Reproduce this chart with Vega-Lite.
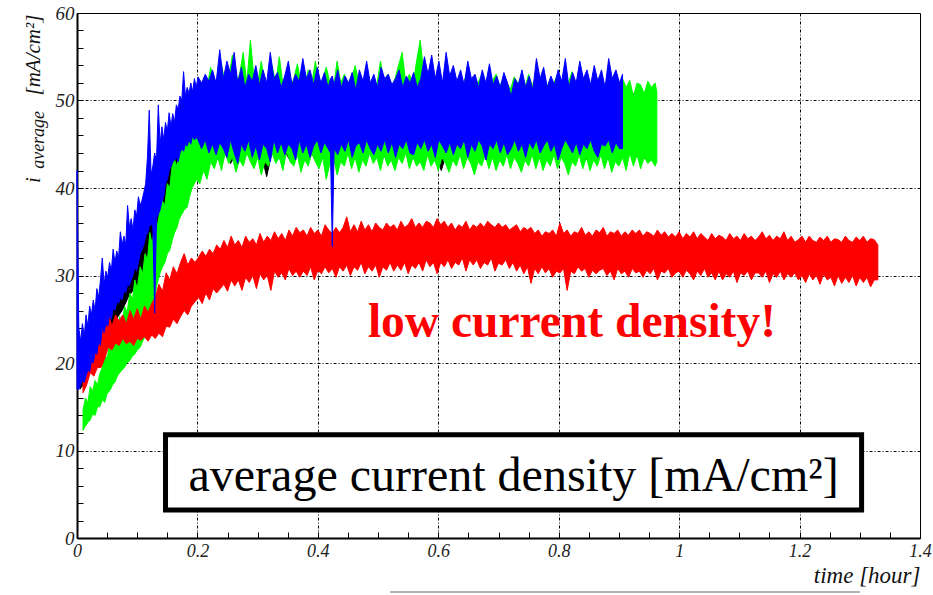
{
"$schema":"https://vega.github.io/schema/vega-lite/v6.json",
"width":843,"height":525,
"autosize":{"type":"none"},
"padding":{"left":77,"top":13,"right":13,"bottom":57},
"background":"white",
"config":{"view":{"stroke":"black","strokeWidth":1},"font":"Liberation Serif"},
"datasets":{
"black":[{"t":0.005,"a":17,"b":22},{"t":0.015,"a":18,"b":23.5},{"t":0.025,"a":19.5,"b":25},{"t":0.035,"a":21,"b":26.5},{"t":0.045,"a":22.5,"b":28},{"t":0.055,"a":23.5,"b":29},{"t":0.065,"a":25,"b":30.5},{"t":0.075,"a":26,"b":32},{"t":0.085,"a":27.5,"b":33.5},{"t":0.095,"a":28.5,"b":35},{"t":0.105,"a":29.2,"b":36.5},{"t":0.115,"a":31,"b":38},{"t":0.125,"a":33,"b":40},{"t":0.135,"a":35,"b":42},{"t":0.145,"a":37.5,"b":44.5},{"t":0.155,"a":39.5,"b":46},{"t":0.165,"a":41,"b":47.5},{"t":0.175,"a":42.5,"b":49},{"t":0.185,"a":43,"b":50},{"t":0.195,"a":43.5,"b":50.5},{"t":0.205,"a":43.8,"b":50},{"t":0.215,"a":42.5,"b":50.5},{"t":0.225,"a":44.5,"b":49.8},{"t":0.235,"a":43.2,"b":50.5},{"t":0.245,"a":44.8,"b":50.2},{"t":0.255,"a":42.8,"b":51},{"t":0.265,"a":44,"b":50},{"t":0.275,"a":42.9,"b":50.5},{"t":0.285,"a":44.5,"b":50.2},{"t":0.295,"a":43.5,"b":51},{"t":0.305,"a":44.2,"b":50},{"t":0.315,"a":41.3,"b":50.5},{"t":0.325,"a":44.5,"b":50.2},{"t":0.335,"a":43.8,"b":50.8},{"t":0.345,"a":44.2,"b":50},{"t":0.355,"a":43,"b":50.5},{"t":0.365,"a":44.5,"b":50.2},{"t":0.375,"a":43.5,"b":50.8},{"t":0.385,"a":44.8,"b":50},{"t":0.395,"a":43.2,"b":50.5},{"t":0.405,"a":44.5,"b":50.2},{"t":0.415,"a":43.8,"b":50.8},{"t":0.425,"a":44.2,"b":50},{"t":0.435,"a":42.8,"b":50.5},{"t":0.445,"a":44.5,"b":50.2},{"t":0.455,"a":43.5,"b":50.8},{"t":0.465,"a":44.8,"b":50},{"t":0.475,"a":43.2,"b":50.5},{"t":0.485,"a":44,"b":50.2},{"t":0.495,"a":43.5,"b":50.8},{"t":0.505,"a":44.5,"b":50},{"t":0.515,"a":43,"b":50.5},{"t":0.525,"a":44.2,"b":50.2},{"t":0.535,"a":43.8,"b":50.8},{"t":0.545,"a":44.5,"b":50},{"t":0.555,"a":43.2,"b":50.5},{"t":0.565,"a":44,"b":50.2},{"t":0.575,"a":42.5,"b":50.8},{"t":0.585,"a":44.5,"b":50},{"t":0.595,"a":43.8,"b":50.5},{"t":0.605,"a":42,"b":50.2},{"t":0.615,"a":44.2,"b":50.8},{"t":0.625,"a":43.5,"b":50},{"t":0.635,"a":44.5,"b":50.5},{"t":0.645,"a":43.2,"b":50.2},{"t":0.655,"a":44.8,"b":50.8},{"t":0.665,"a":43.5,"b":50},{"t":0.675,"a":44.2,"b":50.5},{"t":0.685,"a":43,"b":50.2},{"t":0.695,"a":44.5,"b":50.8},{"t":0.705,"a":43.8,"b":50},{"t":0.715,"a":44.2,"b":50.5},{"t":0.725,"a":43.5,"b":50.2},{"t":0.735,"a":44.8,"b":50.8},{"t":0.745,"a":43.2,"b":50},{"t":0.755,"a":44.5,"b":50.5},{"t":0.765,"a":43.8,"b":50.2},{"t":0.775,"a":44.2,"b":50.8},{"t":0.785,"a":42.9,"b":50},{"t":0.795,"a":44.5,"b":50.5},{"t":0.805,"a":43.5,"b":50.2},{"t":0.815,"a":44.2,"b":50.8},{"t":0.825,"a":43.8,"b":50},{"t":0.835,"a":44.5,"b":50.5},{"t":0.845,"a":43.2,"b":50.2},{"t":0.855,"a":44.2,"b":50.8},{"t":0.865,"a":43.5,"b":50},{"t":0.875,"a":44.8,"b":50.5},{"t":0.885,"a":43,"b":50.2},{"t":0.895,"a":44.5,"b":50.8},{"t":0.905,"a":43.8,"b":51},{"t":0.915,"a":44.2,"b":50.5},{"t":0.925,"a":43.5,"b":50.8},{"t":0.935,"a":44,"b":50.2},{"t":0.945,"a":43.2,"b":50.5},{"t":0.955,"a":43.8,"b":50}],
"green":[{"t":0.01,"a":12.3,"b":14.6},{"t":0.014,"a":12.8,"b":16},{"t":0.018,"a":13.2,"b":15.5},{"t":0.022,"a":13.5,"b":17.3},{"t":0.026,"a":14.2,"b":16.8},{"t":0.03,"a":14,"b":18},{"t":0.034,"a":15,"b":17.5},{"t":0.038,"a":15,"b":18.8},{"t":0.042,"a":15.8,"b":19.5},{"t":0.046,"a":15.5,"b":21},{"t":0.05,"a":16.5,"b":20.5},{"t":0.055,"a":16.9,"b":22.6},{"t":0.059,"a":17.5,"b":21.8},{"t":0.063,"a":17.8,"b":24},{"t":0.067,"a":18.5,"b":23},{"t":0.071,"a":18.9,"b":25.3},{"t":0.075,"a":19.2,"b":24.5},{"t":0.079,"a":19.5,"b":26.5},{"t":0.083,"a":20,"b":25.8},{"t":0.088,"a":20.3,"b":28},{"t":0.092,"a":20.8,"b":27.2},{"t":0.096,"a":21,"b":29.5},{"t":0.1,"a":21.5,"b":28.5},{"t":0.105,"a":21.8,"b":31},{"t":0.109,"a":22.5,"b":30.2},{"t":0.113,"a":23,"b":32.5},{"t":0.117,"a":23.8,"b":31.8},{"t":0.121,"a":24.6,"b":34.9},{"t":0.125,"a":26,"b":33.5},{"t":0.129,"a":27.5,"b":36},{"t":0.133,"a":29,"b":35.5},{"t":0.138,"a":30.3,"b":37.5},{"t":0.142,"a":31,"b":38.5},{"t":0.146,"a":31.5,"b":38},{"t":0.15,"a":32.5,"b":40.5},{"t":0.154,"a":32.9,"b":40},{"t":0.158,"a":34,"b":42.5},{"t":0.162,"a":34.9,"b":43.2},{"t":0.166,"a":35.5,"b":42.5},{"t":0.17,"a":36.5,"b":44},{"t":0.174,"a":37,"b":44.5},{"t":0.178,"a":37.5,"b":45.2},{"t":0.183,"a":37.8,"b":45.9},{"t":0.187,"a":39,"b":47.5},{"t":0.191,"a":40,"b":48},{"t":0.195,"a":40.5,"b":49.5},{"t":0.199,"a":41,"b":50.5},{"t":0.204,"a":40.5,"b":51},{"t":0.21,"a":42,"b":52},{"t":0.216,"a":41,"b":51.5},{"t":0.222,"a":43,"b":53.8},{"t":0.228,"a":42.2,"b":52},{"t":0.234,"a":43.5,"b":52.5},{"t":0.24,"a":42,"b":54.2},{"t":0.246,"a":44,"b":51.8},{"t":0.252,"a":42.8,"b":52.5},{"t":0.258,"a":43.5,"b":55.2},{"t":0.264,"a":41.8,"b":52},{"t":0.27,"a":43.2,"b":53},{"t":0.276,"a":42.5,"b":55.5},{"t":0.282,"a":44,"b":52},{"t":0.288,"a":43,"b":56.9},{"t":0.294,"a":42.2,"b":52.5},{"t":0.3,"a":43.5,"b":51.8},{"t":0.306,"a":41.5,"b":54.5},{"t":0.312,"a":43,"b":52},{"t":0.318,"a":42.5,"b":51.5},{"t":0.324,"a":44,"b":54},{"t":0.33,"a":42.8,"b":52},{"t":0.336,"a":43.5,"b":55},{"t":0.342,"a":42,"b":51.8},{"t":0.348,"a":44.2,"b":53},{"t":0.354,"a":43,"b":51.5},{"t":0.36,"a":42.5,"b":52.5},{"t":0.366,"a":43.8,"b":54.2},{"t":0.372,"a":41.8,"b":52},{"t":0.378,"a":43.2,"b":51.5},{"t":0.384,"a":42.5,"b":53.5},{"t":0.39,"a":44,"b":52},{"t":0.396,"a":43,"b":54.5},{"t":0.402,"a":42.2,"b":51.5},{"t":0.408,"a":43.5,"b":52.5},{"t":0.414,"a":41,"b":53.8},{"t":0.42,"a":42.8,"b":52},{"t":0.426,"a":43.5,"b":51.5},{"t":0.432,"a":41.5,"b":54.5},{"t":0.438,"a":43,"b":52},{"t":0.444,"a":42.5,"b":53},{"t":0.45,"a":44,"b":51.8},{"t":0.456,"a":42.2,"b":52.5},{"t":0.462,"a":43.5,"b":54},{"t":0.468,"a":41.8,"b":52},{"t":0.474,"a":43.2,"b":51.5},{"t":0.48,"a":42.5,"b":53.5},{"t":0.486,"a":44,"b":52},{"t":0.492,"a":42.8,"b":52.5},{"t":0.498,"a":43.5,"b":51.8},{"t":0.504,"a":42,"b":54.5},{"t":0.51,"a":43.8,"b":52},{"t":0.516,"a":42.5,"b":53},{"t":0.522,"a":43.2,"b":51.5},{"t":0.528,"a":42,"b":52.5},{"t":0.534,"a":43.5,"b":54},{"t":0.54,"a":42.8,"b":55.5},{"t":0.546,"a":44,"b":52},{"t":0.552,"a":42.2,"b":53},{"t":0.558,"a":43.5,"b":51.8},{"t":0.564,"a":42.5,"b":54.5},{"t":0.57,"a":43,"b":56.9},{"t":0.576,"a":42,"b":53},{"t":0.582,"a":43.8,"b":51.8},{"t":0.588,"a":42.5,"b":53.5},{"t":0.594,"a":43.2,"b":52},{"t":0.6,"a":42,"b":53},{"t":0.606,"a":43.5,"b":52},{"t":0.612,"a":42.8,"b":53},{"t":0.618,"a":41.8,"b":52.3},{"t":0.624,"a":43.2,"b":52.7},{"t":0.63,"a":42.5,"b":51.5},{"t":0.636,"a":43.8,"b":53},{"t":0.642,"a":42.2,"b":52},{"t":0.648,"a":43.5,"b":53.3},{"t":0.654,"a":42.8,"b":51.7},{"t":0.66,"a":41.5,"b":52.5},{"t":0.666,"a":43,"b":52},{"t":0.672,"a":42.5,"b":53},{"t":0.678,"a":43.8,"b":51.5},{"t":0.684,"a":42.2,"b":52.7},{"t":0.69,"a":43.5,"b":52.3},{"t":0.696,"a":42,"b":53},{"t":0.702,"a":43.2,"b":51.7},{"t":0.708,"a":42.5,"b":52.5},{"t":0.714,"a":43.8,"b":52},{"t":0.72,"a":42.2,"b":51.3},{"t":0.726,"a":43.5,"b":52.7},{"t":0.732,"a":42.8,"b":52},{"t":0.738,"a":41.8,"b":52.5},{"t":0.744,"a":43.2,"b":51.5},{"t":0.75,"a":42.5,"b":53},{"t":0.756,"a":43.8,"b":51.7},{"t":0.762,"a":42.2,"b":52.7},{"t":0.768,"a":43.5,"b":52},{"t":0.774,"a":42,"b":53.3},{"t":0.78,"a":43.2,"b":51.5},{"t":0.786,"a":42.5,"b":52.5},{"t":0.792,"a":43.8,"b":52},{"t":0.798,"a":42.2,"b":53},{"t":0.804,"a":43.5,"b":51.7},{"t":0.81,"a":42.8,"b":52.7},{"t":0.816,"a":41.5,"b":52},{"t":0.822,"a":43,"b":53.3},{"t":0.828,"a":42.5,"b":51.5},{"t":0.834,"a":43.8,"b":52.7},{"t":0.84,"a":42.2,"b":52},{"t":0.846,"a":43.5,"b":53},{"t":0.852,"a":42,"b":51.7},{"t":0.858,"a":43.2,"b":52.5},{"t":0.864,"a":42.5,"b":52.3},{"t":0.87,"a":43.8,"b":53},{"t":0.876,"a":42.2,"b":51.5},{"t":0.882,"a":43.5,"b":52.7},{"t":0.888,"a":41.8,"b":52},{"t":0.894,"a":43,"b":53},{"t":0.9,"a":42.5,"b":51.7},{"t":0.906,"a":43.5,"b":52.5},{"t":0.912,"a":42,"b":51.5},{"t":0.918,"a":44,"b":52.3},{"t":0.924,"a":42.5,"b":50.5},{"t":0.93,"a":43.8,"b":52},{"t":0.936,"a":42.2,"b":51.8},{"t":0.942,"a":43.5,"b":50.8},{"t":0.948,"a":42.8,"b":52.2},{"t":0.954,"a":43.2,"b":51.5},{"t":0.96,"a":42.5,"b":52},{"t":0.963,"a":43,"b":51}],
"red":[{"t":0.01,"a":16.6,"b":19.5},{"t":0.016,"a":17.5,"b":20.5},{"t":0.022,"a":18.9,"b":22.3},{"t":0.028,"a":18.5,"b":21.5},{"t":0.034,"a":19.5,"b":23.5},{"t":0.04,"a":19.5,"b":24.6},{"t":0.046,"a":20.5,"b":23.8},{"t":0.052,"a":21.8,"b":25.7},{"t":0.058,"a":21.5,"b":24.2},{"t":0.064,"a":22.3,"b":25.5},{"t":0.07,"a":22,"b":24.8},{"t":0.076,"a":22.8,"b":25.5},{"t":0.082,"a":22.2,"b":24.5},{"t":0.088,"a":22.5,"b":26},{"t":0.094,"a":22,"b":25},{"t":0.1,"a":22.8,"b":26.2},{"t":0.106,"a":22.6,"b":25},{"t":0.112,"a":23,"b":26.5},{"t":0.118,"a":22.5,"b":25.8},{"t":0.124,"a":23.2,"b":26.8},{"t":0.13,"a":22.8,"b":27.5},{"t":0.136,"a":23.4,"b":29},{"t":0.142,"a":23,"b":28.2},{"t":0.148,"a":24.2,"b":30.3},{"t":0.154,"a":24.1,"b":29.5},{"t":0.16,"a":25,"b":31},{"t":0.166,"a":24.5,"b":30.2},{"t":0.172,"a":25.3,"b":31.5},{"t":0.178,"a":26,"b":32.5},{"t":0.184,"a":25.5,"b":31.2},{"t":0.19,"a":26.5,"b":32},{"t":0.196,"a":27,"b":31.5},{"t":0.202,"a":27.5,"b":32.1},{"t":0.208,"a":26.8,"b":32.8},{"t":0.214,"a":28,"b":32.2},{"t":0.22,"a":27.2,"b":33},{"t":0.226,"a":28.5,"b":32.5},{"t":0.232,"a":28,"b":33.5},{"t":0.238,"a":28.5,"b":33},{"t":0.244,"a":29,"b":34},{"t":0.25,"a":28.2,"b":33.2},{"t":0.256,"a":29.5,"b":34.5},{"t":0.262,"a":28.8,"b":33.5},{"t":0.268,"a":29.5,"b":34},{"t":0.274,"a":28.3,"b":33.2},{"t":0.28,"a":29.8,"b":34.5},{"t":0.286,"a":29.2,"b":33.8},{"t":0.292,"a":30,"b":34.2},{"t":0.298,"a":28.5,"b":33.5},{"t":0.304,"a":30.2,"b":34.8},{"t":0.31,"a":29.5,"b":33.8},{"t":0.316,"a":30,"b":34.5},{"t":0.322,"a":28.3,"b":34},{"t":0.328,"a":30.5,"b":35},{"t":0.334,"a":29.8,"b":34.2},{"t":0.34,"a":30.3,"b":34.8},{"t":0.346,"a":29.5,"b":34},{"t":0.352,"a":30.8,"b":35.2},{"t":0.358,"a":30,"b":34.5},{"t":0.364,"a":30.5,"b":35.5},{"t":0.37,"a":29.8,"b":34.9},{"t":0.376,"a":30.5,"b":35.2},{"t":0.382,"a":30,"b":34.5},{"t":0.388,"a":31,"b":35.5},{"t":0.394,"a":29.5,"b":34.8},{"t":0.4,"a":30.6,"b":35.2},{"t":0.406,"a":30.2,"b":34.5},{"t":0.412,"a":31,"b":35.8},{"t":0.418,"a":30.3,"b":35.2},{"t":0.424,"a":30.8,"b":34.8},{"t":0.43,"a":29.8,"b":35.5},{"t":0.436,"a":31,"b":34.9},{"t":0.442,"a":30.5,"b":35.5},{"t":0.448,"a":31.2,"b":36.7},{"t":0.454,"a":30,"b":35},{"t":0.46,"a":31,"b":35.8},{"t":0.466,"a":30.6,"b":35},{"t":0.472,"a":31.5,"b":36.2},{"t":0.478,"a":30.2,"b":35.2},{"t":0.484,"a":31,"b":35.8},{"t":0.49,"a":30.5,"b":35},{"t":0.496,"a":31.2,"b":36},{"t":0.502,"a":29.8,"b":35.5},{"t":0.508,"a":31,"b":35.2},{"t":0.514,"a":30.6,"b":36},{"t":0.52,"a":31.5,"b":35.5},{"t":0.526,"a":30.5,"b":35.8},{"t":0.532,"a":31.2,"b":35.2},{"t":0.538,"a":30.6,"b":36.2},{"t":0.544,"a":31.5,"b":35.5},{"t":0.55,"a":30.2,"b":35.8},{"t":0.556,"a":31.2,"b":36.5},{"t":0.562,"a":30.8,"b":35.5},{"t":0.568,"a":31.5,"b":36},{"t":0.574,"a":30.5,"b":35.5},{"t":0.58,"a":31.8,"b":36.2},{"t":0.586,"a":31,"b":36},{"t":0.592,"a":31.5,"b":35.5},{"t":0.598,"a":30.2,"b":36.5},{"t":0.604,"a":31.5,"b":35.8},{"t":0.61,"a":31,"b":36.2},{"t":0.616,"a":31.8,"b":35.5},{"t":0.622,"a":30.8,"b":36},{"t":0.628,"a":31.5,"b":35.2},{"t":0.634,"a":31.2,"b":35.8},{"t":0.64,"a":32,"b":35.5},{"t":0.646,"a":30.5,"b":36.2},{"t":0.652,"a":31.8,"b":35.2},{"t":0.658,"a":31.2,"b":35.8},{"t":0.664,"a":31.8,"b":35.5},{"t":0.67,"a":30.8,"b":36},{"t":0.676,"a":31.5,"b":35.5},{"t":0.682,"a":31.2,"b":36.2},{"t":0.688,"a":32,"b":35.8},{"t":0.694,"a":30.5,"b":35.5},{"t":0.7,"a":31.4,"b":36},{"t":0.706,"a":31.2,"b":35.5},{"t":0.712,"a":31.8,"b":35.8},{"t":0.718,"a":30.8,"b":35.2},{"t":0.724,"a":31.5,"b":35.5},{"t":0.73,"a":30.5,"b":35.8},{"t":0.736,"a":31.2,"b":35},{"t":0.742,"a":30.2,"b":35.5},{"t":0.748,"a":31,"b":35.2},{"t":0.754,"a":29.1,"b":35.5},{"t":0.76,"a":30.8,"b":34.8},{"t":0.766,"a":30.2,"b":35.2},{"t":0.772,"a":31,"b":34.5},{"t":0.778,"a":30.3,"b":35},{"t":0.784,"a":30.8,"b":34.8},{"t":0.79,"a":29.8,"b":35.2},{"t":0.796,"a":30.5,"b":34.5},{"t":0.802,"a":30.3,"b":36},{"t":0.808,"a":30.8,"b":34.8},{"t":0.814,"a":28.3,"b":35.2},{"t":0.82,"a":30.5,"b":34.5},{"t":0.826,"a":30.2,"b":35},{"t":0.832,"a":31,"b":34.8},{"t":0.838,"a":30.5,"b":35.5},{"t":0.844,"a":30.8,"b":34.6},{"t":0.85,"a":29.8,"b":35},{"t":0.856,"a":30.6,"b":34.5},{"t":0.862,"a":30.2,"b":35.2},{"t":0.868,"a":30.6,"b":34.9},{"t":0.874,"a":30.8,"b":35.5},{"t":0.88,"a":30,"b":34.5},{"t":0.886,"a":30.5,"b":35},{"t":0.892,"a":29.5,"b":34.8},{"t":0.898,"a":30.8,"b":35.2},{"t":0.904,"a":30.2,"b":34.5},{"t":0.91,"a":30.5,"b":35},{"t":0.916,"a":29.8,"b":34.6},{"t":0.922,"a":30.8,"b":35.2},{"t":0.928,"a":30.3,"b":34.8},{"t":0.934,"a":30.5,"b":35.2},{"t":0.94,"a":29.8,"b":34.5},{"t":0.946,"a":30.6,"b":35},{"t":0.952,"a":30.2,"b":34.8},{"t":0.958,"a":30.8,"b":34.5},{"t":0.964,"a":29.5,"b":35.2},{"t":0.97,"a":30.5,"b":34.6},{"t":0.976,"a":30.3,"b":35},{"t":0.982,"a":30.8,"b":34.4},{"t":0.988,"a":29.8,"b":34.8},{"t":0.994,"a":30.3,"b":34.4},{"t":1.0,"a":30.5,"b":35},{"t":1.006,"a":29.8,"b":34.2},{"t":1.012,"a":30.6,"b":34.8},{"t":1.018,"a":30.2,"b":34.4},{"t":1.024,"a":29.5,"b":35},{"t":1.03,"a":30.5,"b":34.2},{"t":1.036,"a":30,"b":34.8},{"t":1.042,"a":30.8,"b":34.4},{"t":1.048,"a":29.8,"b":34},{"t":1.054,"a":30.3,"b":34.8},{"t":1.06,"a":29.5,"b":34.2},{"t":1.066,"a":30.5,"b":34.6},{"t":1.072,"a":29.5,"b":34.4},{"t":1.078,"a":30.2,"b":34},{"t":1.084,"a":29.8,"b":34.8},{"t":1.09,"a":30.5,"b":34.2},{"t":1.096,"a":29.2,"b":34.5},{"t":1.102,"a":30.3,"b":34},{"t":1.108,"a":30,"b":34.8},{"t":1.114,"a":30.5,"b":34.2},{"t":1.12,"a":29.5,"b":34.5},{"t":1.126,"a":30.3,"b":34},{"t":1.132,"a":30.3,"b":34.4},{"t":1.138,"a":29.8,"b":35},{"t":1.144,"a":30.5,"b":34.2},{"t":1.15,"a":29.2,"b":34.6},{"t":1.156,"a":30.2,"b":34},{"t":1.162,"a":29.8,"b":34.5},{"t":1.168,"a":30.5,"b":34.2},{"t":1.174,"a":29.5,"b":35},{"t":1.18,"a":30.2,"b":34},{"t":1.186,"a":29.8,"b":34.5},{"t":1.192,"a":30.3,"b":33.8},{"t":1.198,"a":29.5,"b":34.1},{"t":1.204,"a":30,"b":34.5},{"t":1.21,"a":29.2,"b":33.8},{"t":1.216,"a":30.2,"b":34.5},{"t":1.222,"a":29.5,"b":34},{"t":1.228,"a":30,"b":33.8},{"t":1.234,"a":29,"b":34.4},{"t":1.24,"a":30.2,"b":34},{"t":1.246,"a":29.5,"b":34.5},{"t":1.252,"a":29.8,"b":33.8},{"t":1.258,"a":28.8,"b":34.2},{"t":1.264,"a":30,"b":34.1},{"t":1.27,"a":29.1,"b":33.8},{"t":1.276,"a":29.8,"b":34.5},{"t":1.282,"a":29.2,"b":34},{"t":1.288,"a":30,"b":33.8},{"t":1.294,"a":28.8,"b":34.4},{"t":1.3,"a":29.8,"b":34},{"t":1.306,"a":29.2,"b":34.5},{"t":1.312,"a":29.8,"b":33.8},{"t":1.318,"a":28.7,"b":34.2},{"t":1.324,"a":29.5,"b":34.1},{"t":1.33,"a":29.5,"b":33.5}],
"blue":[{"t":0,"a":17,"b":42},{"t":0.003,"a":17,"b":24},{"t":0.006,"a":17.5,"b":22.5},{"t":0.009,"a":18,"b":24.5},{"t":0.012,"a":17.8,"b":23},{"t":0.015,"a":18.5,"b":25.5},{"t":0.018,"a":19.2,"b":24.2},{"t":0.021,"a":19,"b":26.5},{"t":0.024,"a":20.3,"b":25.5},{"t":0.027,"a":20,"b":27.2},{"t":0.03,"a":21.2,"b":26},{"t":0.033,"a":21,"b":28.5},{"t":0.036,"a":22.5,"b":27.5},{"t":0.039,"a":22,"b":29.5},{"t":0.042,"a":24,"b":32},{"t":0.045,"a":23.5,"b":29},{"t":0.048,"a":24.5,"b":30.5},{"t":0.051,"a":24.2,"b":29.8},{"t":0.054,"a":25.5,"b":31.5},{"t":0.057,"a":25,"b":30.5},{"t":0.06,"a":26.3,"b":33},{"t":0.063,"a":26,"b":31.5},{"t":0.066,"a":27,"b":32.8},{"t":0.069,"a":26.8,"b":32},{"t":0.072,"a":27.5,"b":35},{"t":0.075,"a":27.2,"b":33.5},{"t":0.078,"a":28.3,"b":34.5},{"t":0.081,"a":28,"b":33.5},{"t":0.084,"a":29,"b":38},{"t":0.087,"a":28.8,"b":35.5},{"t":0.09,"a":29.5,"b":36.5},{"t":0.093,"a":30,"b":35.2},{"t":0.096,"a":31,"b":37.5},{"t":0.099,"a":30.5,"b":36.8},{"t":0.102,"a":31.5,"b":39},{"t":0.105,"a":32.5,"b":38},{"t":0.108,"a":33,"b":38.6},{"t":0.111,"a":33.5,"b":39.5},{"t":0.114,"a":34.5,"b":40.5},{"t":0.117,"a":34.8,"b":43.5},{"t":0.12,"a":35.5,"b":48.9},{"t":0.123,"a":36,"b":41.5},{"t":0.126,"a":35.5,"b":42.5},{"t":0.129,"a":25.7,"b":44},{"t":0.132,"a":36.5,"b":43},{"t":0.135,"a":37,"b":49.5},{"t":0.138,"a":37.5,"b":45},{"t":0.141,"a":38.5,"b":47},{"t":0.144,"a":39,"b":45.5},{"t":0.147,"a":40.5,"b":47.5},{"t":0.15,"a":41,"b":46.5},{"t":0.153,"a":42,"b":48.6},{"t":0.156,"a":42.5,"b":47},{"t":0.159,"a":43,"b":48.5},{"t":0.162,"a":43.2,"b":47.5},{"t":0.165,"a":43.5,"b":49.5},{"t":0.168,"a":43,"b":49},{"t":0.171,"a":44,"b":50.5},{"t":0.174,"a":44.5,"b":50},{"t":0.177,"a":44.2,"b":53.3},{"t":0.18,"a":45,"b":50.5},{"t":0.183,"a":44.8,"b":51.5},{"t":0.186,"a":45.5,"b":50.8},{"t":0.189,"a":45,"b":52},{"t":0.192,"a":46,"b":51},{"t":0.195,"a":45.5,"b":52.5},{"t":0.198,"a":45.8,"b":51.5},{"t":0.201,"a":45.5,"b":52.7},{"t":0.207,"a":44.5,"b":52},{"t":0.213,"a":45.5,"b":53},{"t":0.219,"a":44,"b":52.2},{"t":0.225,"a":45,"b":53.5},{"t":0.231,"a":43.8,"b":52},{"t":0.237,"a":45.2,"b":55.8},{"t":0.243,"a":44.5,"b":52.5},{"t":0.249,"a":43.5,"b":54.5},{"t":0.255,"a":45.5,"b":53},{"t":0.261,"a":44,"b":55.5},{"t":0.267,"a":42.8,"b":52},{"t":0.273,"a":45,"b":53.8},{"t":0.279,"a":44.2,"b":51.5},{"t":0.285,"a":45.5,"b":53},{"t":0.291,"a":43.5,"b":52.2},{"t":0.297,"a":44.8,"b":54},{"t":0.303,"a":43.2,"b":51.8},{"t":0.309,"a":45,"b":53.5},{"t":0.315,"a":44.5,"b":52},{"t":0.321,"a":43,"b":55.5},{"t":0.327,"a":45.5,"b":52.5},{"t":0.333,"a":44,"b":53.2},{"t":0.339,"a":45.2,"b":51.5},{"t":0.345,"a":43.8,"b":52.8},{"t":0.351,"a":45,"b":54.5},{"t":0.357,"a":44.5,"b":51.8},{"t":0.363,"a":43.2,"b":53},{"t":0.369,"a":45.5,"b":52.2},{"t":0.375,"a":44,"b":54.8},{"t":0.381,"a":45,"b":52.5},{"t":0.387,"a":43.5,"b":53.5},{"t":0.393,"a":44.8,"b":51.8},{"t":0.399,"a":45.5,"b":53.8},{"t":0.405,"a":44,"b":52},{"t":0.411,"a":45.2,"b":53.2},{"t":0.417,"a":44.5,"b":51.5},{"t":0.421,"a":44,"b":52.5},{"t":0.424,"a":33.3,"b":52.8},{"t":0.427,"a":44.5,"b":51.8},{"t":0.433,"a":43.8,"b":53.5},{"t":0.439,"a":45,"b":51.5},{"t":0.445,"a":44.2,"b":52.8},{"t":0.451,"a":45.5,"b":52},{"t":0.457,"a":43.5,"b":53.2},{"t":0.463,"a":44.8,"b":51.2},{"t":0.469,"a":45.2,"b":53.5},{"t":0.475,"a":44,"b":52.2},{"t":0.481,"a":45.5,"b":54.5},{"t":0.487,"a":44.5,"b":52},{"t":0.493,"a":43.8,"b":53},{"t":0.499,"a":45,"b":51.5},{"t":0.505,"a":44.2,"b":53.8},{"t":0.511,"a":45.5,"b":52.5},{"t":0.517,"a":44,"b":53},{"t":0.523,"a":45.2,"b":51.8},{"t":0.529,"a":43.5,"b":52.5},{"t":0.535,"a":45,"b":53.5},{"t":0.541,"a":44.5,"b":51.5},{"t":0.547,"a":45.5,"b":52.8},{"t":0.553,"a":44,"b":52},{"t":0.559,"a":43.8,"b":53.2},{"t":0.565,"a":45.2,"b":51.5},{"t":0.571,"a":44.5,"b":52.5},{"t":0.577,"a":45.5,"b":55},{"t":0.583,"a":44.2,"b":53},{"t":0.589,"a":45,"b":55.2},{"t":0.595,"a":43.5,"b":52.5},{"t":0.601,"a":45.5,"b":54.5},{"t":0.607,"a":44.8,"b":52},{"t":0.613,"a":44,"b":55.5},{"t":0.619,"a":45.2,"b":52.8},{"t":0.625,"a":43.8,"b":54},{"t":0.631,"a":45,"b":52.2},{"t":0.637,"a":44.5,"b":53.5},{"t":0.643,"a":45.5,"b":51.8},{"t":0.649,"a":43.5,"b":54.5},{"t":0.655,"a":45,"b":52.5},{"t":0.661,"a":44.2,"b":53},{"t":0.667,"a":45.5,"b":51.5},{"t":0.673,"a":44.8,"b":53.5},{"t":0.679,"a":43.2,"b":52},{"t":0.685,"a":45,"b":54.2},{"t":0.691,"a":44.5,"b":51.8},{"t":0.697,"a":45.5,"b":52.8},{"t":0.703,"a":44,"b":51.5},{"t":0.709,"a":45.2,"b":53.2},{"t":0.715,"a":43.8,"b":52},{"t":0.721,"a":44.5,"b":50.5},{"t":0.727,"a":45.5,"b":52.5},{"t":0.733,"a":44.2,"b":51.8},{"t":0.739,"a":45,"b":53.5},{"t":0.745,"a":43.5,"b":51.5},{"t":0.751,"a":45.2,"b":52.8},{"t":0.757,"a":44.5,"b":51.2},{"t":0.763,"a":45.5,"b":54.8},{"t":0.769,"a":44,"b":52.5},{"t":0.775,"a":44.8,"b":53.8},{"t":0.781,"a":45.5,"b":51.5},{"t":0.787,"a":44.2,"b":52.8},{"t":0.793,"a":45,"b":51.8},{"t":0.799,"a":43.2,"b":53.5},{"t":0.805,"a":44.5,"b":52.2},{"t":0.811,"a":45.5,"b":54.8},{"t":0.817,"a":44.8,"b":51.5},{"t":0.823,"a":44,"b":53.2},{"t":0.829,"a":45.2,"b":52},{"t":0.835,"a":43.8,"b":54.5},{"t":0.841,"a":45,"b":52.5},{"t":0.847,"a":44.5,"b":53.5},{"t":0.853,"a":45.5,"b":51.8},{"t":0.859,"a":44.2,"b":54},{"t":0.865,"a":43.5,"b":52.2},{"t":0.871,"a":45,"b":53.5},{"t":0.877,"a":44.8,"b":51.5},{"t":0.883,"a":45.5,"b":54.8},{"t":0.889,"a":44,"b":52.5},{"t":0.895,"a":45.2,"b":53.5},{"t":0.901,"a":44.5,"b":52},{"t":0.906,"a":44.5,"b":53}]
},
"layer":[
{"data":{"name":"black"},"mark":{"type":"area","color":"#000000","stroke":"#000000","strokeWidth":1},
 "encoding":{
  "x":{"field":"t","type":"quantitative","scale":{"domain":[0,1.4],"nice":false,"zero":false},
   "axis":{"title":"time [hour]","titleFont":"Liberation Serif","titleFontStyle":"italic","titleFontWeight":"normal","titleFontSize":23,"titleColor":"#111","titleAnchor":"end","titleAlign":"right","titlePadding":4,
    "values":[0,0.05,0.1,0.15,0.2,0.25,0.3,0.35,0.4,0.45,0.5,0.55,0.6,0.65,0.7,0.75,0.8,0.85,0.9,0.95,1,1.05,1.1,1.15,1.2,1.25,1.3,1.35,1.4],
    "tickCount":200,
    "labelExpr":"abs(round(datum.value*20)%4)==0 ? format(datum.value,'~g') : ''",
    "labelFont":"Liberation Serif","labelFontStyle":"italic","labelFontSize":18,"labelColor":"#222","labelPadding":10,"labelFlush":false,"labelOverlap":false,
    "tickSize":-6,"tickColor":"#000","tickWidth":1,
    "domainColor":"#000","domainWidth":2,
    "grid":true,"gridColor":"#000","gridWidth":1,"gridDash":[3,2,1,2],
    "gridOpacity":{"condition":{"test":"abs(round(datum.value*20)%4)==0 && datum.value>0.01 && datum.value<1.39","value":1},"value":0}}},
  "y":{"field":"a","type":"quantitative","scale":{"domain":[0,60],"nice":false,"zero":false},
   "axis":{"title":null,
    "values":[0,2,4,6,8,10,12,14,16,18,20,22,24,26,28,30,32,34,36,38,40,42,44,46,48,50,52,54,56,58,60],
    "tickCount":200,
    "labelExpr":"datum.value%10==0 ? format(datum.value,'d') : ''",
    "labelFont":"Liberation Serif","labelFontStyle":"italic","labelFontSize":19,"labelColor":"#222","labelPadding":9,"labelOverlap":false,
    "tickSize":-6,"tickColor":"#000","tickWidth":1,
    "domainColor":"#000","domainWidth":2,
    "grid":true,"gridColor":"#000","gridWidth":1,"gridDash":[3,2,1,2],
    "gridOpacity":{"condition":{"test":"datum.value%10==0 && datum.value>0 && datum.value<60","value":1},"value":0}}},
  "y2":{"field":"b"}}},
{"data":{"name":"green"},"mark":{"type":"area","color":"#00ff00","stroke":"#00ff00","strokeWidth":1},
 "encoding":{"x":{"field":"t","type":"quantitative"},"y":{"field":"a","type":"quantitative"},"y2":{"field":"b"}}},
{"data":{"name":"red"},"mark":{"type":"area","color":"#ff0000","stroke":"#ff0000","strokeWidth":1},
 "encoding":{"x":{"field":"t","type":"quantitative"},"y":{"field":"a","type":"quantitative"},"y2":{"field":"b"}}},
{"data":{"name":"blue"},"mark":{"type":"area","color":"#0000ff","stroke":"#0000ff","strokeWidth":1},
 "encoding":{"x":{"field":"t","type":"quantitative"},"y":{"field":"a","type":"quantitative"},"y2":{"field":"b"}}},
{"data":{"values":[{}]},"mark":{"type":"rect","fill":"white","stroke":"black","strokeWidth":5},
 "encoding":{"x":{"datum":0.147,"type":"quantitative"},"x2":{"datum":1.303},"y":{"datum":3.2,"type":"quantitative"},"y2":{"datum":11.8}}},
{"data":{"values":[{}]},"mark":{"type":"text","text":"average current density [mA/cm²]","font":"Liberation Serif","fontSize":48,"color":"black","align":"center","baseline":"alphabetic"},
 "encoding":{"x":{"datum":0.725,"type":"quantitative"},"y":{"datum":5.4,"type":"quantitative"}}},
{"data":{"values":[{}]},"mark":{"type":"text","text":"low current density!","font":"Liberation Serif","fontSize":47.5,"fontWeight":"bold","color":"#ff0000","align":"center","baseline":"alphabetic"},
 "encoding":{"x":{"datum":0.822,"type":"quantitative"},"y":{"datum":23.0,"type":"quantitative"}}},
{"data":{"values":[{}]},"mark":{"type":"text","text":"i","font":"Liberation Serif","fontSize":21,"fontStyle":"italic","color":"#111","angle":270,"align":"center","baseline":"alphabetic"},
 "encoding":{"x":{"datum":-0.0615,"type":"quantitative"},"y":{"datum":40.9,"type":"quantitative"}}},
{"data":{"values":[{}]},"mark":{"type":"text","text":"average","font":"Liberation Serif","fontSize":18,"fontStyle":"italic","color":"#111","angle":270,"align":"center","baseline":"alphabetic"},
 "encoding":{"x":{"datum":-0.054,"type":"quantitative"},"y":{"datum":45.5,"type":"quantitative"}}},
{"data":{"values":[{}]},"mark":{"type":"text","text":"[mA/cm²]","font":"Liberation Serif","fontSize":21,"fontStyle":"italic","color":"#111","angle":270,"align":"center","baseline":"alphabetic"},
 "encoding":{"x":{"datum":-0.0615,"type":"quantitative"},"y":{"datum":55.2,"type":"quantitative"}}},
{"data":{"values":[{}]},"mark":{"type":"rule","color":"#999","strokeWidth":1.5},
 "encoding":{"x":{"datum":0.52,"type":"quantitative"},"x2":{"datum":1.3},"y":{"datum":-6.17,"type":"quantitative"}}}
]
}
